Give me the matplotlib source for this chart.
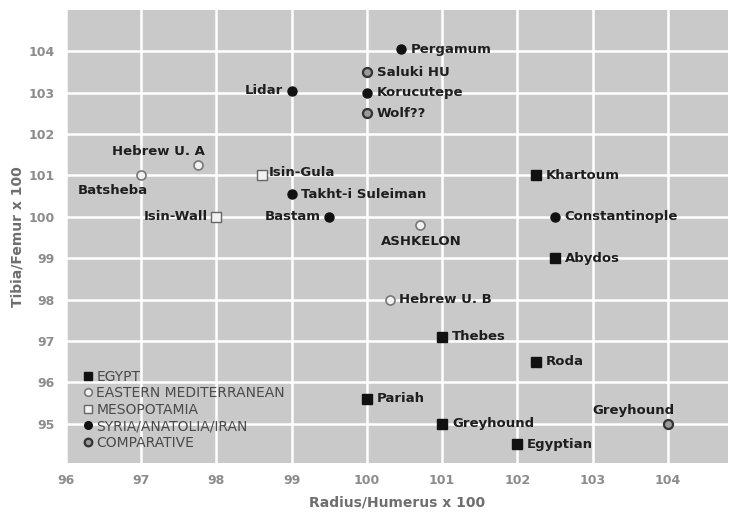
import matplotlib
matplotlib.use('Agg')
import matplotlib.pyplot as plt
from matplotlib.lines import Line2D

plt.rcParams['font.family'] = ['DejaVu Sans']

# limb ratios per site: (name, radius/humerus, tibia/femur, group)
names = ['Pergamum', 'Saluki HU', 'Korucutepe', 'Wolf??', 'Lidar', 'Hebrew U. A',
         'Batsheba', 'Isin-Gula', 'Takht-i Suleiman', 'Bastam', 'Isin-Wall', 'ASHKELON',
         'Khartoum', 'Constantinople', 'Abydos', 'Hebrew U. B', 'Thebes', 'Roda',
         'Pariah', 'Greyhound', 'Egyptian', 'Greyhound']
radius_humerus = [100.45, 100.0, 100.0, 100.0, 99.0, 97.75,
                  97.0, 98.6, 99.0, 99.5, 98.0, 100.7,
                  102.25, 102.5, 102.5, 100.3, 101.0, 102.25,
                  100.0, 101.0, 102.0, 104.0]
tibia_femur = [104.05, 103.5, 103.0, 102.5, 103.05, 101.25,
               101.0, 101.0, 100.55, 100.0, 100.0, 99.8,
               101.0, 100.0, 99.0, 98.0, 97.1, 96.5,
               95.6, 95.0, 94.5, 95.0]
groups = ['syria', 'comp', 'syria', 'comp', 'syria', 'eastmed',
          'eastmed', 'meso', 'syria', 'syria', 'meso', 'eastmed',
          'egypt', 'syria', 'egypt', 'eastmed', 'egypt', 'egypt',
          'egypt', 'egypt', 'egypt', 'comp']

# where each label sits relative to its marker
placement = ['r', 'r', 'r', 'r', 'l', 'ul',
             'bl', 'ur', 'r', 'l', 'l', 'b',
             'r', 'r', 'r', 'r', 'r', 'r',
             'r', 'r', 'r', 'ul']

group_labels = ['EGYPT', 'EASTERN MEDITERRANEAN', 'MESOPOTAMIA',
                'SYRIA/ANATOLIA/IRAN', 'COMPARATIVE']
group_keys = ['egypt', 'eastmed', 'meso', 'syria', 'comp']

styles = {
    'egypt':   dict(marker='s', mfc='#111111', mec='#111111', mew=1.0),
    'eastmed': dict(marker='o', mfc='#f2f2f2', mec='#777777', mew=1.2),
    'meso':    dict(marker='s', mfc='#f2f2f2', mec='#666666', mew=1.0),
    'syria':   dict(marker='o', mfc='#111111', mec='#111111', mew=1.0),
    'comp':    dict(marker='o', mfc='#9a9a9a', mec='#333333', mew=1.6),
}

fig = plt.figure(figsize=(7.32, 5.15), dpi=100)
ax = fig.add_axes([0.0902, 0.101, 0.9044, 0.8796])
ax.set_facecolor('#c9c9c9')
for s in ax.spines.values():
    s.set_visible(False)

ax.set_xlim(96, 104.8)
ax.set_ylim(94.05, 105.0)
ax.set_xticks(range(96, 105))
ax.set_yticks(range(95, 105))
ax.grid(True, color='white', linewidth=1.8)
ax.set_axisbelow(True)
ax.tick_params(length=0, labelsize=9, labelcolor='#8c8c8c', pad=8)
for lab in ax.get_xticklabels() + ax.get_yticklabels():
    lab.set_fontweight('bold')

ax.set_xlabel('Radius/Humerus x 100', fontsize=10, fontweight='bold',
              color='#6e6e6e', labelpad=6)
ax.set_ylabel('Tibia/Femur x 100', fontsize=10, fontweight='bold',
              color='#6e6e6e', labelpad=3)

for x, y, g in zip(radius_humerus, tibia_femur, groups):
    ax.plot(x, y, linestyle='none', markersize=6.5, zorder=3, **styles[g])

offsets = {
    'r':  ((7, 0), 'left', 'center'),
    'l':  ((-6, 0), 'right', 'center'),
    'ul': ((5, 5), 'right', 'bottom'),
    'bl': ((5, -6), 'right', 'top'),
    'ur': ((5, 2), 'left', 'center'),
    'b':  ((1, -7), 'center', 'top'),
}
for name, x, y, p in zip(names, radius_humerus, tibia_femur, placement):
    off, ha, va = offsets[p]
    ax.annotate(name, (x, y), xytext=off, textcoords='offset points',
                ha=ha, va=va, fontsize=9.5, fontweight='bold', color='#1e1e1e',
                zorder=4)

handles = [Line2D([], [], linestyle='none', markersize=5.5, **styles[k])
           for k in group_keys]
leg = ax.legend(handles, group_labels, loc='upper left',
                bbox_to_anchor=(0.027, 0.206), frameon=False, fontsize=10,
                handlelength=0.6, handletextpad=0.3, labelspacing=0.18,
                borderaxespad=0, borderpad=0)
for t in leg.get_texts():
    t.set_color('#4a4a4a')

fig.savefig('out.png', dpi=100, facecolor='white')
